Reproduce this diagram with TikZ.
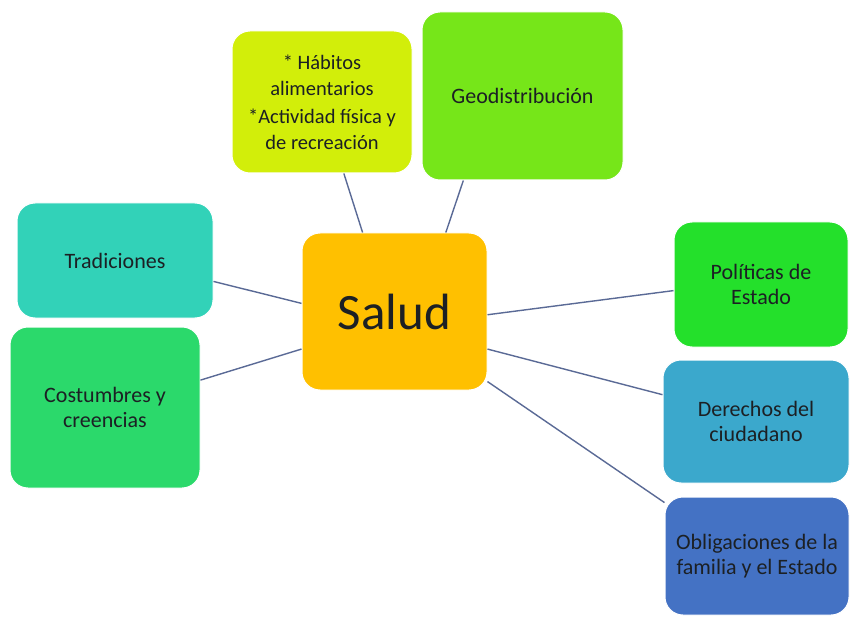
\documentclass[tikz,border=0pt]{standalone}
\usepackage{fontspec}
\setmainfont{Carlito}
\definecolor{chab}{RGB}{210,238,10}
\definecolor{cgeo}{RGB}{118,230,25}
\definecolor{ctra}{RGB}{50,210,184}
\definecolor{ccos}{RGB}{43,217,107}
\definecolor{csal}{RGB}{255,192,0}
\definecolor{cpol}{RGB}{36,224,43}
\definecolor{cder}{RGB}{59,168,204}
\definecolor{cobl}{RGB}{68,114,196}
\definecolor{txt}{RGB}{28,32,36}
\definecolor{linec}{RGB}{90,106,150}
\begin{document}
\begin{tikzpicture}[x=1pt,y=-1pt,
  box/.style={rounded corners=18pt, draw=white, line width=1pt, align=center,
    font=\fontsize{22}{25}\selectfont, text=txt, inner sep=0pt},
  link/.style={draw=linec, line width=1.4pt}]
\useasboundingbox[fill=white] (0,0) rectangle (850,617);
\node[box, fill=chab, minimum width=180pt, minimum height=142pt,
  font=\fontsize{20.5}{26}\selectfont] (hab) at (322,102)
  {* Hábitos\\alimentarios\\[2pt]*Actividad física y\\de recreación};
\node[box, fill=cgeo, minimum width=201pt, minimum height=168pt] (geo) at (522.5,96) {Geodistribución};
\node[box, fill=ctra, minimum width=196pt, minimum height=115pt] (tra) at (115,260.5) {Tradiciones};
\node[box, fill=ccos, minimum width=190pt, minimum height=161pt] (cos) at (105,407.5) {Costumbres y\\creencias};
\node[box, fill=csal, minimum width=185pt, minimum height=157pt,
  font=\fontsize{51}{55}\selectfont] (sal) at (394.5,311.5) {Salud};
\node[box, fill=cpol, minimum width=174pt, minimum height=125pt] (pol) at (761,284.5) {Políticas de\\Estado};
\node[box, fill=cder, minimum width=186pt, minimum height=123pt] (der) at (756,421.5) {Derechos del\\ciudadano};
\node[box, fill=cobl, minimum width=184pt, minimum height=118pt] (obl) at (757,556) {Obligaciones de la\\familia y el Estado};
\draw[link] (sal.112) -- (hab.-73);
\draw[link] (sal.57.6) -- (geo.235.6);
\draw[link] (sal.175) -- (tra.-12.4);
\draw[link] (sal.202) -- (cos.16.2);
\draw[link] (sal.-2.2) -- (pol.184.8);
\draw[link] (sal.-22) -- (der.164.2);
\draw[link] (sal.-37.7) -- (obl.150);
\end{tikzpicture}
\end{document}
